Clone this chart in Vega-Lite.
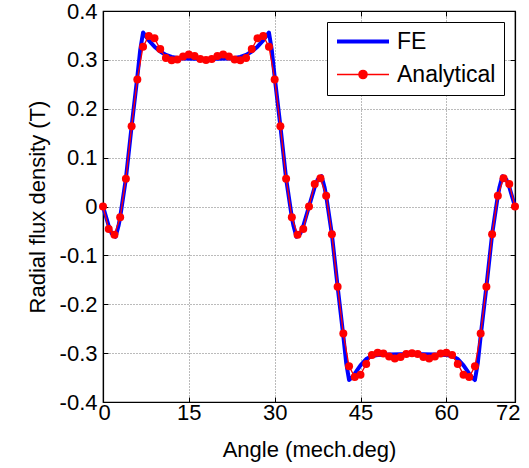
{
  "$schema": "https://vega.github.io/schema/vega-lite/v6.json",
  "width": 412,
  "height": 391,
  "autosize": {"type": "none"},
  "padding": {"left": 103, "top": 11, "right": 14, "bottom": 66},
  "background": "white",
  "config": {
    "font": "Liberation Sans",
    "view": {"stroke": "black", "strokeWidth": 1.2},
    "axis": {
      "labelFont": "Liberation Sans",
      "titleFont": "Liberation Sans",
      "labelFontSize": 22,
      "titleFontSize": 22,
      "titleFontWeight": "normal",
      "labelColor": "black",
      "titleColor": "black",
      "domainColor": "black",
      "domainWidth": 1.2,
      "tickColor": "black",
      "tickSize": -5,
      "gridColor": "#777777",
      "gridDash": [1, 2],
      "gridWidth": 1,
      "gridOpacity": 1
    }
  },
  "datasets": {
    "fe": [
      {"angle": 0, "b": 0}, {"angle": 0.5, "b": -0.02}, {"angle": 1, "b": -0.04}, {"angle": 1.5, "b": -0.055},
      {"angle": 2.2, "b": -0.062}, {"angle": 2.7, "b": -0.04}, {"angle": 3, "b": -0.022}, {"angle": 4, "b": 0.057},
      {"angle": 5, "b": 0.164}, {"angle": 6, "b": 0.265}, {"angle": 6.5, "b": 0.32}, {"angle": 7, "b": 0.356},
      {"angle": 7.5, "b": 0.348}, {"angle": 8, "b": 0.34}, {"angle": 9, "b": 0.327}, {"angle": 10, "b": 0.317},
      {"angle": 11, "b": 0.31}, {"angle": 12, "b": 0.306}, {"angle": 13, "b": 0.304}, {"angle": 14, "b": 0.303},
      {"angle": 18, "b": 0.302}, {"angle": 22, "b": 0.303}, {"angle": 23, "b": 0.304}, {"angle": 24, "b": 0.306},
      {"angle": 25, "b": 0.31}, {"angle": 26, "b": 0.317}, {"angle": 27, "b": 0.327}, {"angle": 28, "b": 0.34},
      {"angle": 28.5, "b": 0.348}, {"angle": 29, "b": 0.356}, {"angle": 29.5, "b": 0.32}, {"angle": 30, "b": 0.265},
      {"angle": 31, "b": 0.164}, {"angle": 32, "b": 0.057}, {"angle": 33, "b": -0.022}, {"angle": 33.3, "b": -0.04},
      {"angle": 33.8, "b": -0.062}, {"angle": 34.5, "b": -0.055}, {"angle": 35, "b": -0.04}, {"angle": 35.5, "b": -0.02},
      {"angle": 36, "b": 0}, {"angle": 36.5, "b": 0.02}, {"angle": 37, "b": 0.04}, {"angle": 37.5, "b": 0.055},
      {"angle": 38.2, "b": 0.062}, {"angle": 38.7, "b": 0.04}, {"angle": 39, "b": 0.022}, {"angle": 40, "b": -0.057},
      {"angle": 41, "b": -0.164}, {"angle": 42, "b": -0.265}, {"angle": 42.5, "b": -0.32}, {"angle": 43, "b": -0.355},
      {"angle": 43.5, "b": -0.35}, {"angle": 44, "b": -0.342}, {"angle": 45, "b": -0.325}, {"angle": 46, "b": -0.312},
      {"angle": 47, "b": -0.306}, {"angle": 48, "b": -0.304}, {"angle": 50, "b": -0.303}, {"angle": 54, "b": -0.302},
      {"angle": 58, "b": -0.303}, {"angle": 60, "b": -0.304}, {"angle": 61, "b": -0.306}, {"angle": 62, "b": -0.312},
      {"angle": 63, "b": -0.325}, {"angle": 64, "b": -0.342}, {"angle": 64.5, "b": -0.35}, {"angle": 65, "b": -0.355},
      {"angle": 65.5, "b": -0.32}, {"angle": 66, "b": -0.265}, {"angle": 67, "b": -0.164}, {"angle": 68, "b": -0.057},
      {"angle": 69, "b": 0.022}, {"angle": 69.3, "b": 0.04}, {"angle": 69.8, "b": 0.062}, {"angle": 70.5, "b": 0.055},
      {"angle": 71, "b": 0.04}, {"angle": 71.5, "b": 0.02}, {"angle": 72, "b": 0}
    ],
    "analytical": [
      {"angle": 0, "b": 0}, {"angle": 1, "b": -0.046}, {"angle": 2, "b": -0.058}, {"angle": 3, "b": -0.022},
      {"angle": 4, "b": 0.057}, {"angle": 5, "b": 0.164}, {"angle": 6, "b": 0.26}, {"angle": 7, "b": 0.327},
      {"angle": 8, "b": 0.349}, {"angle": 9, "b": 0.344}, {"angle": 10, "b": 0.322}, {"angle": 11, "b": 0.304},
      {"angle": 12, "b": 0.299}, {"angle": 13, "b": 0.301}, {"angle": 14, "b": 0.307}, {"angle": 15, "b": 0.311},
      {"angle": 16, "b": 0.308}, {"angle": 17, "b": 0.302}, {"angle": 18, "b": 0.3}, {"angle": 19, "b": 0.302},
      {"angle": 20, "b": 0.308}, {"angle": 21, "b": 0.311}, {"angle": 22, "b": 0.307}, {"angle": 23, "b": 0.301},
      {"angle": 24, "b": 0.299}, {"angle": 25, "b": 0.304}, {"angle": 26, "b": 0.322}, {"angle": 27, "b": 0.344},
      {"angle": 28, "b": 0.349}, {"angle": 29, "b": 0.327}, {"angle": 30, "b": 0.26}, {"angle": 31, "b": 0.164},
      {"angle": 32, "b": 0.057}, {"angle": 33, "b": -0.022}, {"angle": 34, "b": -0.058}, {"angle": 35, "b": -0.046},
      {"angle": 36, "b": 0}, {"angle": 37, "b": 0.046}, {"angle": 38, "b": 0.058}, {"angle": 39, "b": 0.022},
      {"angle": 40, "b": -0.057}, {"angle": 41, "b": -0.164}, {"angle": 42, "b": -0.26}, {"angle": 43, "b": -0.327},
      {"angle": 44, "b": -0.349}, {"angle": 45, "b": -0.344}, {"angle": 46, "b": -0.322}, {"angle": 47, "b": -0.304},
      {"angle": 48, "b": -0.299}, {"angle": 49, "b": -0.301}, {"angle": 50, "b": -0.307}, {"angle": 51, "b": -0.311},
      {"angle": 52, "b": -0.308}, {"angle": 53, "b": -0.302}, {"angle": 54, "b": -0.3}, {"angle": 55, "b": -0.302},
      {"angle": 56, "b": -0.308}, {"angle": 57, "b": -0.311}, {"angle": 58, "b": -0.307}, {"angle": 59, "b": -0.301},
      {"angle": 60, "b": -0.299}, {"angle": 61, "b": -0.304}, {"angle": 62, "b": -0.322}, {"angle": 63, "b": -0.344},
      {"angle": 64, "b": -0.349}, {"angle": 65, "b": -0.327}, {"angle": 66, "b": -0.26}, {"angle": 67, "b": -0.164},
      {"angle": 68, "b": -0.057}, {"angle": 69, "b": 0.022}, {"angle": 70, "b": 0.058}, {"angle": 71, "b": 0.046},
      {"angle": 72, "b": 0}
    ]
  },
  "layer": [
    {
      "data": {"name": "fe"},
      "transform": [{"calculate": "'FE'", "as": "series"}],
      "mark": {"type": "line", "strokeWidth": 4, "strokeJoin": "round"},
      "encoding": {
        "x": {
          "field": "angle", "type": "quantitative",
          "scale": {"domain": [0, 72], "nice": false, "zero": false},
          "axis": {"values": [0, 15, 30, 45, 60, 72], "title": "Angle (mech.deg)", "labelPadding": 5, "labelFlush": true, "labelFlushOffset": 5, "titlePadding": 16, "grid": true, "orient": "bottom"}
        },
        "y": {
          "field": "b", "type": "quantitative",
          "scale": {"domain": [-0.4, 0.4], "nice": false, "zero": false},
          "axis": {"values": [-0.4, -0.3, -0.2, -0.1, 0, 0.1, 0.2, 0.3, 0.4], "labelExpr": "datum.value == 0 ? '0' : (datum.value < 0 ? '-' : '') + format(abs(datum.value), '.1f')", "title": "Radial flux density (T)", "labelPadding": 11, "titlePadding": 10, "grid": true, "orient": "left"}
        },
        "color": {
          "field": "series", "type": "nominal",
          "scale": {"domain": ["FE", "Analytical"], "range": ["#0000ff", "#ff0000"]},
          "legend": {
            "title": null,
            "orient": "top-right",
            "offset": 11,
            "fillColor": "white",
            "strokeColor": "black",
            "padding": 8,
            "labelFont": "Liberation Sans",
            "labelFontSize": 23,
            "labelColor": "black",
            "symbolSize": 2704,
            "labelOffset": 39,
            "rowPadding": 9,
            "encode": {
              "symbols": {
                "update": {
                  "x": {"value": 28},
                  "shape": {"signal": "datum.value === 'FE' ? 'M-1,0L1,0' : 'M-1,0L1,0M0.16,0A0.16,0.16 0 1,1 -0.16,0A0.16,0.16 0 1,1 0.16,0Z'"},
                  "strokeWidth": {"signal": "datum.value === 'FE' ? 4 : 1.3"},
                  "fill": {"signal": "datum.value === 'FE' ? 'transparent' : '#ff0000'"},
                  "stroke": {"signal": "datum.value === 'FE' ? '#0000ff' : '#ff0000'"},
                  "opacity": {"value": 1},
                  "fillOpacity": {"value": 1},
                  "strokeOpacity": {"value": 1}
                }
              }
            }
          }
        }
      }
    },
    {
      "data": {"name": "analytical"},
      "transform": [{"calculate": "'Analytical'", "as": "series"}],
      "mark": {"type": "line", "strokeWidth": 1.3},
      "encoding": {
        "x": {"field": "angle", "type": "quantitative", "axis": null},
        "y": {"field": "b", "type": "quantitative", "axis": null},
        "color": {"field": "series", "type": "nominal"}
      }
    },
    {
      "data": {"name": "analytical"},
      "transform": [{"calculate": "'Analytical'", "as": "series"}],
      "mark": {"type": "point", "filled": true, "size": 64, "opacity": 1},
      "encoding": {
        "x": {"field": "angle", "type": "quantitative", "axis": {"orient": "top", "values": [0, 15, 30, 45, 60, 72], "labels": false, "title": null, "grid": false}},
        "y": {"field": "b", "type": "quantitative", "axis": {"orient": "right", "values": [-0.4, -0.3, -0.2, -0.1, 0, 0.1, 0.2, 0.3, 0.4], "labels": false, "title": null, "grid": false}},
        "color": {"field": "series", "type": "nominal"}
      }
    }
  ],
  "resolve": {"axis": {"x": "independent", "y": "independent"}}
}
